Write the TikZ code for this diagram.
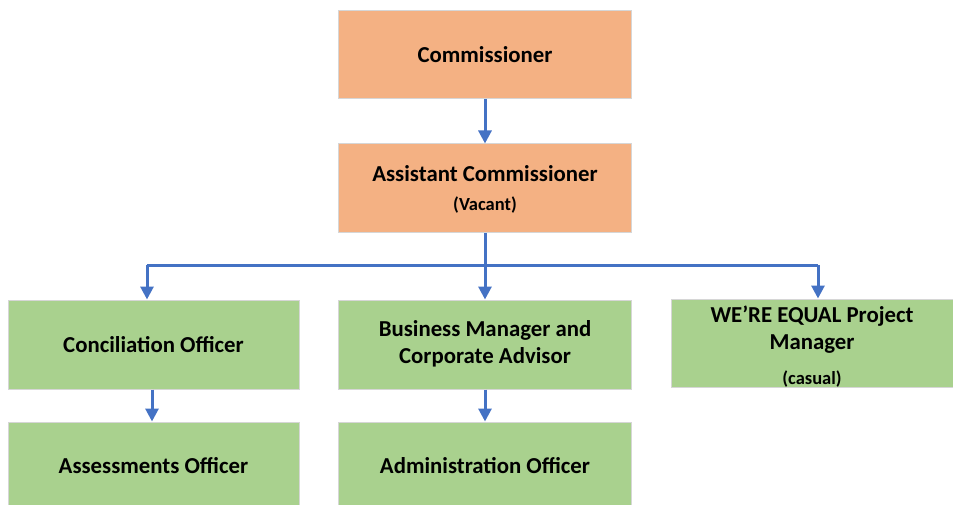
\documentclass[tikz,border=0pt]{standalone}
\usepackage{fontspec}
\setmainfont{Carlito}
\usetikzlibrary{arrows.meta}
\definecolor{boxorange}{HTML}{F4B183}
\definecolor{boxgreen}{HTML}{A9D18E}
\definecolor{boxedge}{HTML}{D6D6D6}
\definecolor{linkblue}{HTML}{4472C4}
\begin{document}
\begin{tikzpicture}[x=1pt,y=-1pt,
  orgbox/.style={draw=boxedge,line width=1pt,rectangle,inner sep=0pt},
  senior/.style={orgbox,fill=boxorange},
  staff/.style={orgbox,fill=boxgreen},
  label/.style={font=\bfseries\fontsize{22.8}{27}\selectfont,align=center,inner sep=0pt},
  note/.style={font=\bfseries\fontsize{18.5}{22}\selectfont,inner sep=0pt},
  link/.style={draw=linkblue,line width=3pt,-{Triangle[width=13pt,length=13pt]}},
  line/.style={draw=linkblue,line width=3pt}]
\useasboundingbox (0,0) rectangle (953,505);
% boxes
\node[senior,minimum width=293pt,minimum height=88pt] (comm) at (485,55) {};
\node[senior,minimum width=293pt,minimum height=89pt] (asst) at (485,188.5) {};
\node[staff,minimum width=291pt,minimum height=89pt] (conc) at (153.5,344.5) {};
\node[staff,minimum width=293pt,minimum height=89pt] (bus) at (485,344.5) {};
\node[staff,minimum width=283pt,minimum height=88pt] (proj) at (812.5,343) {};
\node[staff,minimum width=291pt,minimum height=86pt] (assess) at (153.5,465) {};
\node[staff,minimum width=293pt,minimum height=86pt] (admin) at (485,465) {};
% texts
\node[label] (tcomm) at (485,55) {Commissioner};
\node[label] (tasst) at (485,174) {Assistant Commissioner};
\node[note] (tvac) at (485,205) {(Vacant)};
\node[label] (tconc) at (153.5,345) {Conciliation Officer};
\node[label] (tbus) at (485,344) {Business Manager and\\Corporate Advisor};
\node[label] (tproj) at (812,330) {WE’RE EQUAL Project\\Manager};
\node[note] (tcas) at (812,379) {(casual)};
\node[label] (tassess) at (153.5,466) {Assessments Officer};
\node[label] (tadmin) at (485,466) {Administration Officer};
% connectors
\coordinate (fork) at (485,265);
\coordinate (forkL) at (147,265);
\coordinate (forkR) at (818,265);
\draw[link] (comm.south) -- (asst.north);
\draw[line] (asst.south) -- (fork);
\draw[line] (forkL) -- (forkR);
\draw[link] (fork) -- (bus.north);
\draw[link] (forkL) -- (forkL |- conc.north);
\draw[link] (forkR) -- (forkR |- proj.north);
\draw[link] (conc.south -| 152,0) -- (assess.north -| 152,0);
\draw[link] (bus.south) -- (admin.north);
\end{tikzpicture}
\end{document}
